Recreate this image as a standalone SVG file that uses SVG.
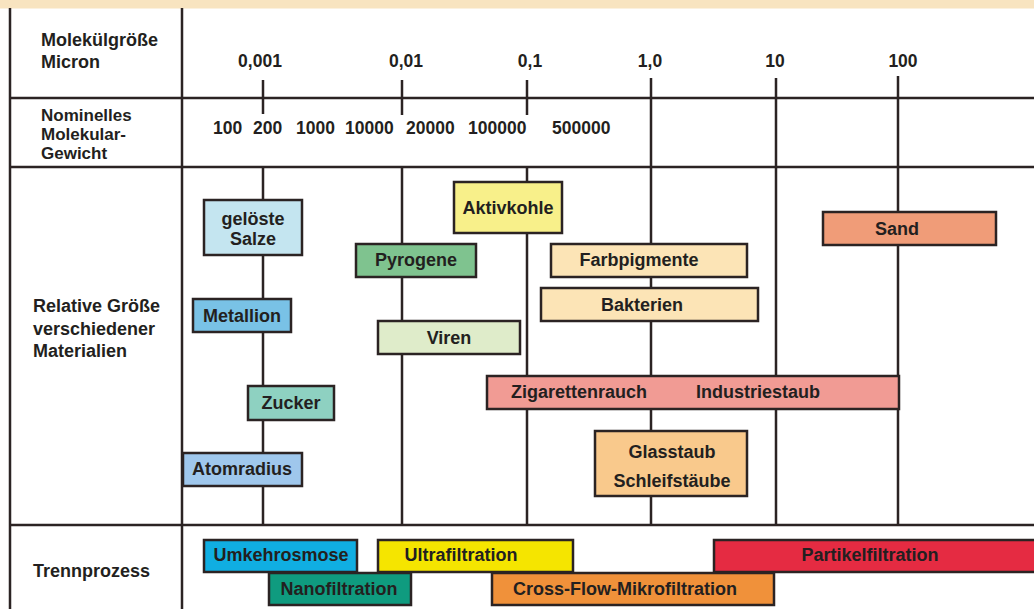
<svg xmlns="http://www.w3.org/2000/svg" width="1034" height="609" viewBox="0 0 1034 609">
<style>
text{font-family:"Liberation Sans",Arial,sans-serif;font-weight:bold;fill:#231f20;font-size:18px}
.c{text-anchor:middle}
.n{font-size:17.5px}
.m{font-size:17px}
.g{stroke:#2b2323;stroke-width:2.5;fill:none}
.b{stroke:#2b2323;stroke-width:2.5}
</style>
<rect x="0" y="0" width="1034" height="8.5" fill="#f8e4c0"/>
<g id="grid">
<line class="g" x1="10" y1="8" x2="10" y2="609"/>
<line class="g" x1="182" y1="8" x2="182" y2="609"/>
<line class="g" x1="10" y1="98" x2="1034" y2="98"/>
<line class="g" x1="10" y1="167" x2="1034" y2="167"/>
<line class="g" x1="10" y1="525" x2="1034" y2="525"/>
</g>
<g id="connectors">
<line class="g" x1="263" y1="80" x2="263" y2="114"/>
<line class="g" x1="402" y1="80" x2="402" y2="115"/>
<line class="g" x1="527" y1="80" x2="527" y2="115"/>
<line class="g" x1="263" y1="167" x2="263" y2="525"/>
<line class="g" x1="402" y1="167" x2="402" y2="525"/>
<line class="g" x1="527" y1="167" x2="527" y2="525"/>
<line class="g" x1="651" y1="78" x2="651" y2="525"/>
<line class="g" x1="776" y1="78" x2="776" y2="525"/>
<line class="g" x1="898" y1="76" x2="898" y2="525"/>
</g>
<g id="labels">
<text x="41" y="46">Molekülgröße</text>
<text x="41" y="68">Micron</text>
<text class="m" x="41" y="121">Nominelles</text>
<text class="m" x="41" y="140">Molekular-</text>
<text class="m" x="41" y="159">Gewicht</text>
<text x="33" y="312">Relative Größe</text>
<text x="33" y="335">verschiedener</text>
<text x="33" y="357">Materialien</text>
<text x="33" y="577">Trennprozess</text>
</g>
<g id="scale-micron">
<text class="c n" x="260" y="67">0,001</text>
<text class="c n" x="406" y="67">0,01</text>
<text class="c n" x="530" y="67">0,1</text>
<text class="c n" x="650" y="67">1,0</text>
<text class="c n" x="775" y="67">10</text>
<text class="c n" x="903" y="67">100</text>
</g>
<g id="scale-weight">
<text class="n" x="213" y="134">100</text>
<text class="n" x="253" y="134">200</text>
<text class="n" x="296" y="134">1000</text>
<text class="n" x="345" y="134">10000</text>
<text class="n" x="406" y="134">20000</text>
<text class="n" x="468" y="134">100000</text>
<text class="n" x="552" y="134">500000</text>
</g>
<g id="geloeste-salze"><rect class="b" x="204" y="200" width="98" height="55" fill="#c4e5f0"/><text class="c" x="253" y="225">gelöste</text><text class="c" x="253" y="245">Salze</text></g>
<g id="metallion"><rect class="b" x="193" y="299" width="98" height="33" fill="#79c2e6"/><text class="c" x="242" y="322">Metallion</text></g>
<g id="zucker"><rect class="b" x="248" y="386" width="86" height="34" fill="#8ed1c1"/><text class="c" x="291" y="409">Zucker</text></g>
<g id="atomradius"><rect class="b" x="183" y="453" width="119" height="33" fill="#9fc7ec"/><text class="c" x="242" y="475">Atomradius</text></g>
<g id="aktivkohle"><rect class="b" x="454" y="182" width="108" height="51" fill="#f8f08a"/><text class="c" x="508" y="214">Aktivkohle</text></g>
<g id="pyrogene"><rect class="b" x="356" y="244" width="120" height="33" fill="#7fc38f"/><text class="c" x="416" y="266">Pyrogene</text></g>
<g id="viren"><rect class="b" x="378" y="321" width="142" height="33" fill="#dfecca"/><text class="c" x="449" y="344">Viren</text></g>
<g id="farbpigmente"><rect class="b" x="551" y="244" width="196" height="33" fill="#fce4b6"/><text class="c" x="639" y="266">Farbpigmente</text></g>
<g id="bakterien"><rect class="b" x="541" y="288" width="217" height="33" fill="#fce4b6"/><text class="c" x="642" y="311">Bakterien</text></g>
<g id="sand"><rect class="b" x="823" y="212" width="173" height="33" fill="#f09c78"/><text class="c" x="897" y="235">Sand</text></g>
<g id="rauch-staub"><rect class="b" x="487" y="376" width="412" height="33" fill="#f19b94"/><text class="c" x="579" y="398">Zigarettenrauch</text><text class="c" x="758" y="398">Industriestaub</text></g>
<g id="glasstaub"><rect class="b" x="595" y="431" width="152" height="65" fill="#f9c98c"/><text class="c" x="672" y="458">Glasstaub</text><text class="c" x="672" y="487">Schleifstäube</text></g>
<g id="umkehrosmose"><rect class="b" x="204" y="540" width="153" height="32" fill="#10aee2"/><text class="c" x="281" y="561">Umkehrosmose</text></g>
<g id="ultrafiltration"><rect class="b" x="378" y="540" width="195" height="32" fill="#f5e500"/><text class="c" x="461" y="561">Ultrafiltration</text></g>
<g id="partikelfiltration"><rect class="b" x="714" y="540" width="330" height="32" fill="#e52b42"/><text class="c" x="870" y="561">Partikelfiltration</text></g>
<g id="nanofiltration"><rect class="b" x="269" y="573" width="142" height="32" fill="#0f9b7f"/><text class="c" x="339" y="595">Nanofiltration</text></g>
<g id="crossflow"><rect class="b" x="492" y="573" width="282" height="32" fill="#f0913a"/><text class="c" x="625" y="595">Cross-Flow-Mikrofiltration</text></g>
</svg>
